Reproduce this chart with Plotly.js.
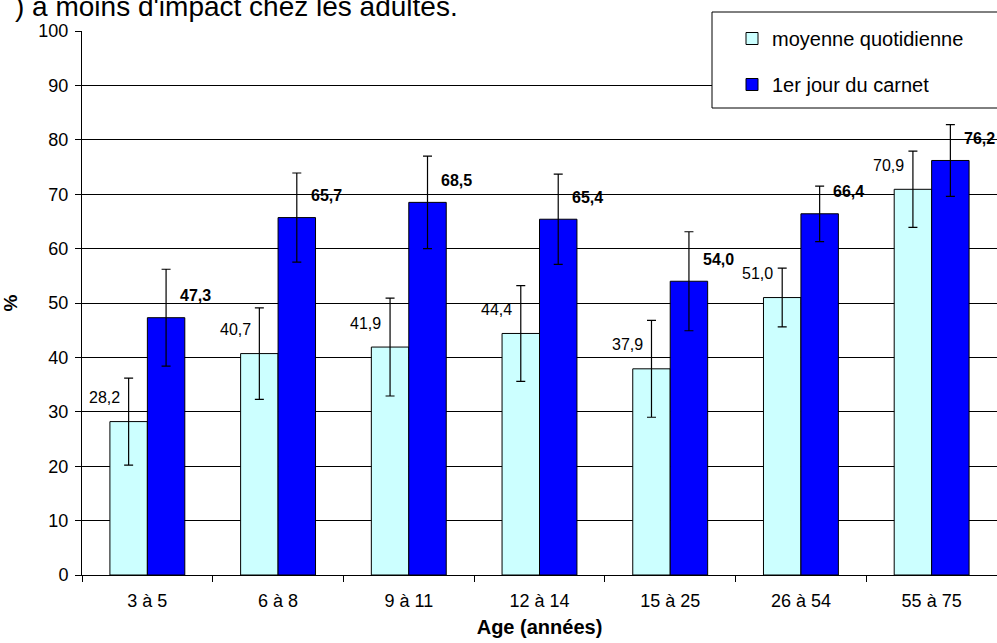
<!DOCTYPE html>
<html>
<head>
<meta charset="utf-8">
<script src="https://cdn.plot.ly/plotly-3.0.1.min.js"></script>
<style>html,body{margin:0;padding:0;background:#fff;}#chart{width:997px;height:643px;}</style>
</head>
<body>
<div id="chart"></div>
<script>
const categories = ["3 à 5", "6 à 8", "9 à 11", "12 à 14", "15 à 25", "26 à 54", "55 à 75"];
const seriesNames = ["moyenne quotidienne", "1er jour du carnet"];
const moyenne = [28.2, 40.7, 41.9, 44.4, 37.9, 51.0, 70.9];
const premierJour = [47.3, 65.7, 68.5, 65.4, 54.0, 66.4, 76.2];
const errMoyenne = [8.0, 8.4, 9.0, 8.8, 8.9, 5.4, 7.0];
const errPremier = [8.9, 8.2, 8.5, 8.3, 9.1, 5.1, 6.6];
const yTicks = [0, 10, 20, 30, 40, 50, 60, 70, 80, 90, 100];
const titleText = ") a moins d'impact chez les adultes.";
const xTitle = "Age (années)";
const yTitle = "%";

const fontFam = "Liberation Sans, Arial, sans-serif";
const fmt = v => v.toFixed(1).replace('.', ',');

const traces = [
  {
    type: 'bar', name: seriesNames[0], x: categories, y: moyenne,
    legendgroup: 'a',
    marker: {color: '#CCFFFF', line: {color: '#000000', width: 1}},
    error_y: {type: 'data', array: errMoyenne, visible: true, color: '#000000', thickness: 1.2, width: 4.5},
    hoverinfo: 'none'
  },
  {
    type: 'bar', name: seriesNames[1], x: categories, y: premierJour,
    legendgroup: 'b',
    marker: {color: '#0000FF', line: {color: '#000000', width: 1}},
    error_y: {type: 'data', array: errPremier, visible: true, color: '#000000', thickness: 1.2, width: 4.5},
    hoverinfo: 'none'
  }
];

const annotations = [];
categories.forEach((c, i) => {
  annotations.push({
    xref: 'x', yref: 'y', x: c, y: moyenne[i], text: fmt(moyenne[i]),
    showarrow: false, xshift: -43, yshift: 24, xanchor: 'center', yanchor: 'middle',
    font: {family: fontFam, size: 16, color: '#000000'}
  });
  annotations.push({
    xref: 'x', yref: 'y', x: c, y: premierJour[i], text: '<b>' + fmt(premierJour[i]) + '</b>',
    showarrow: false, xshift: 48, yshift: 22, xanchor: 'center', yanchor: 'middle',
    font: {family: fontFam, size: 16, color: '#000000'}
  });
});
annotations.push({
  xref: 'paper', yref: 'paper', x: (460 - 82) / 915, y: 1 + (31 - 6) / 544,
  xanchor: 'right', yanchor: 'middle', showarrow: false, text: titleText,
  font: {family: fontFam, size: 28, color: '#000000'}
});

const layout = {
  width: 997, height: 643,
  margin: {l: 82, r: 0, t: 31, b: 68, autoexpand: false},
  paper_bgcolor: '#ffffff', plot_bgcolor: '#ffffff',
  font: {family: fontFam, color: '#000000', size: 18},
  barmode: 'group', bargap: 0.427, bargroupgap: 0,
  showlegend: true,
  legend: {
    x: (732 - 82) / 915, xanchor: 'left', y: 1 + (31 - 19) / 544, yanchor: 'top',
    bgcolor: 'rgba(0,0,0,0)', borderwidth: 0,
    font: {family: fontFam, size: 20, color: '#000000'},
    tracegroupgap: 17, traceorder: 'grouped'
  },
  shapes: [{
    type: 'rect', xref: 'paper', yref: 'paper',
    x0: (712 - 82) / 915, x1: 1.05, y0: 1 - (108 - 31) / 544, y1: 1 + (31 - 12) / 544,
    line: {color: '#000000', width: 1}, fillcolor: '#ffffff', layer: 'above'
  }],
  xaxis: {
    type: 'category', range: [-0.5, 6.5], tickson: 'boundaries',
    ticks: 'outside', ticklen: 6, tickcolor: '#000000',
    showline: true, linecolor: '#000000', linewidth: 1,
    showgrid: false, zeroline: false,
    tickfont: {family: fontFam, size: 18, color: '#000000'},
    ticklabelstandoff: 9,
    title: {text: '<b>' + xTitle + '</b>', font: {family: fontFam, size: 20, color: '#000000'}, standoff: 10}
  },
  yaxis: {
    range: [0, 100], tickvals: yTicks, ticktext: yTicks.map(String),
    ticks: 'outside', ticklen: 6, tickcolor: '#000000',
    showline: true, linecolor: '#000000', linewidth: 1,
    showgrid: true, gridcolor: '#000000', gridwidth: 1, zeroline: false,
    tickfont: {family: fontFam, size: 18, color: '#000000'},
    ticklabelstandoff: 3,
    title: {text: '<b>' + yTitle + '</b>', font: {family: fontFam, size: 19, color: '#000000'}, standoff: 16}
  },
  annotations: annotations
};

Plotly.newPlot('chart', traces, layout, {displayModeBar: false, staticPlot: true});
</script>
</body>
</html>
